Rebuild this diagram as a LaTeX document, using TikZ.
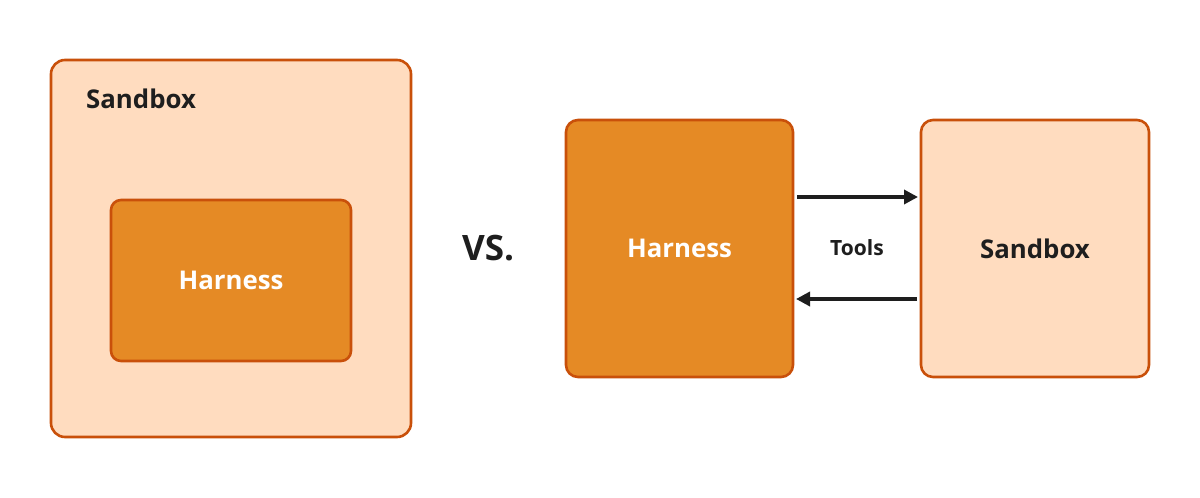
\documentclass[tikz,border=0pt]{standalone}
\usepackage{fontspec}
\setmainfont{Open Sans}
\usetikzlibrary{arrows.meta}
\definecolor{bordc}{HTML}{C9500A}
\definecolor{lightc}{HTML}{FFDCBF}
\definecolor{darkc}{HTML}{E58A25}
\definecolor{inkc}{HTML}{1E1E1E}
\begin{document}
\begin{tikzpicture}[x=1pt,y=-1pt,
  lightbox/.style={draw=bordc,line width=2.6pt,fill=lightc},
  darkbox/.style={draw=bordc,line width=2.6pt,fill=darkc},
  lbl/.style={font=\bfseries\fontsize{25.8}{30}\selectfont},
  flow/.style={draw=inkc,line width=3.4pt,-{Triangle[length=14pt,width=14pt]}}]
\useasboundingbox (0,0) rectangle (1200,498);
\fill[white] (0,0) rectangle (1200,498);
% left
\draw[lightbox,rounded corners=14pt] (51,60) rectangle (411,437);
\node[lbl,text=inkc,anchor=west,inner sep=0pt] (ls) at (86,99) {Sandbox};
\draw[darkbox,rounded corners=10pt] (111,200) rectangle (351,361);
\node[lbl,text=white] (lh) at (231,280) {Harness};
% vs
\node[font=\bfseries\fontsize{35}{40}\selectfont,text=inkc] (vs) at (488,248) {VS.};
% right
\node[darkbox,rounded corners=12pt,minimum width=227pt,minimum height=257pt,inner sep=0pt] (rh) at (679.5,248.5) {};
\node[lbl,text=white] at (rh.center) {Harness};
\node[lightbox,rounded corners=12pt,minimum width=228pt,minimum height=257pt,inner sep=0pt] (rs) at (1035,248.5) {};
\node[lbl,text=inkc] at (rs.center) {Sandbox};
\coordinate (a1) at (797,197);
\coordinate (a2) at (918,197);
\coordinate (b1) at (917,299);
\coordinate (b2) at (796,299);
\draw[flow] (a1) -- (a2);
\draw[flow] (b1) -- (b2);
\node[font=\bfseries\fontsize{21}{25}\selectfont,text=inkc] (tools) at (857,248) {Tools};
\end{tikzpicture}
\end{document}
